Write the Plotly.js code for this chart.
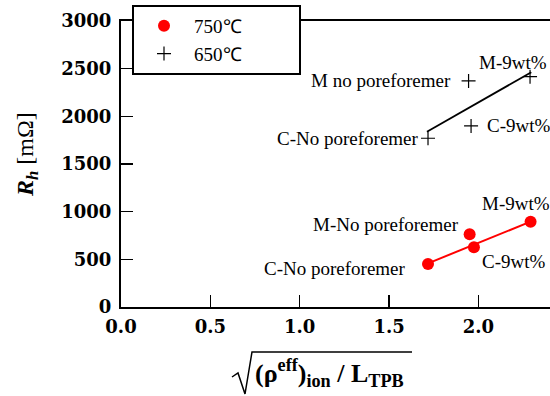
<!DOCTYPE html>
<html>
<head>
<meta charset="utf-8">
<script src="https://cdn.plot.ly/plotly-3.0.1.min.js"></script>
<style>html,body{margin:0;padding:0;background:#fff;}#chart{width:550px;height:396px;}</style>
</head>
<body>
<div id="chart"></div>
<script>
// ---- data ----
const series750Name = "750℃";
const labels750 = ["C-No poreforemer", "M-No poreforemer", "C-9wt%", "M-9wt%"];
const x750 = [1.718, 1.951, 1.975, 2.292];
const y750 = [451, 762, 626, 895];
const fit750x = [1.718, 2.292];
const fit750y = [458, 895];

const series650Name = "650℃";
const labels650 = ["C-No poreforemer", "M no poreforemer", "C-9wt%", "M-9wt%"];
const x650 = [1.718, 1.945, 1.959, 2.289];
const y650 = [1770, 2371, 1899, 2416];
const fit650x = [1.712, 2.296];
const fit650y = [1839, 2462];

const xTicks = [0, 0.5, 1.0, 1.5, 2.0];
const xTickText = ["0.0", "0.5", "1.0", "1.5", "2.0"];
const yTicks = [0, 500, 1000, 1500, 2000, 2500, 3000];

// ---- layout geometry ----
const W = 550, H = 396;
const M = {l: 121, r: 0, t: 21, b: 89};
const pw = W - M.l - M.r, ph = H - M.t - M.b;
const px2x = p => (p - M.l) / pw;
const py2y = p => (H - M.b - p) / ph;

const serif = "Liberation Serif, Times New Roman, serif";
const tickFont = {family: "DejaVu Serif", size: 18, color: "#000", weight: "bold"};
const pad = "\u00a0".repeat(11);

// label offsets (pixels) relative to each point
const off650 = [
  {ax: "right", dx: -7, dy: 0},
  {ax: "right", dx: -16, dy: 0},
  {ax: "left", dx: 14, dy: 0},
  {ax: "center", dx: -17, dy: 14}
];
const off750 = [
  {ax: "right", dx: -20, dy: -4},
  {ax: "right", dx: -9, dy: 10},
  {ax: "left", dx: 6, dy: -14},
  {ax: "center", dx: -15, dy: 18}
];

const annotations = [];
labels650.forEach((t, i) => annotations.push({
  x: x650[i], y: y650[i], xref: "x", yref: "y", text: t, showarrow: false,
  xanchor: off650[i].ax, yanchor: "middle", xshift: off650[i].dx, yshift: off650[i].dy,
  font: {family: serif, size: 19, color: "#000"}
}));
labels750.forEach((t, i) => annotations.push({
  x: x750[i], y: y750[i], xref: "x", yref: "y", text: t, showarrow: false,
  xanchor: off750[i].ax, yanchor: "middle", xshift: off750[i].dx, yshift: off750[i].dy,
  font: {family: serif, size: 19, color: "#000"}
}));

// axis titles
annotations.push({
  xref: "paper", yref: "paper", x: px2x(253), y: py2y(373), xanchor: "left", yanchor: "middle",
  showarrow: false,
  text: "<b>(ρ<sup>eff</sup>)<sub>ion</sub> / L<sub>TPB</sub></b>",
  font: {family: serif, size: 26, color: "#000"}
});
annotations.push({
  xref: "paper", yref: "paper", x: px2x(27), y: py2y(155), xanchor: "center", yanchor: "middle",
  showarrow: false, textangle: -90,
  text: "<b><i>R</i></b><sub><b><i>h</i></b></sub> [mΩ]",
  font: {family: serif, size: 24, color: "#000"}
});

// radical sign for the x title
const rad = [[232, 377], [238, 373], [245, 394], [252, 352], [412, 352]];
const radPath = rad.map((p, i) => (i ? "L" : "M") + px2x(p[0]) + "," + py2y(p[1])).join(" ");

const traces = [
  {x: fit750x, y: fit750y, mode: "lines", line: {color: "#ff0000", width: 2}, showlegend: false, hoverinfo: "skip"},
  {x: fit650x, y: fit650y, mode: "lines", line: {color: "#000", width: 1.8}, showlegend: false, hoverinfo: "skip"},
  {x: x750, y: y750, mode: "markers", name: series750Name + pad,
   marker: {symbol: "circle", size: 12, color: "#ff0000"}},
  {x: x650, y: y650, mode: "markers", name: series650Name + pad,
   marker: {symbol: "cross-thin-open", size: 10, color: "#000", line: {color: "#000", width: 1.2}}}
];

const layout = {
  width: W, height: H,
  margin: M,
  paper_bgcolor: "#fff", plot_bgcolor: "#fff",
  showlegend: true,
  legend: {
    x: px2x(132), y: py2y(5), xanchor: "left", yanchor: "top",
    xref: "paper", yref: "paper",
    bgcolor: "#fff", bordercolor: "#000", borderwidth: 2,
    font: {family: serif, size: 19, color: "#000"},
    itemwidth: 50, tracegroupgap: 0
  },
  xaxis: {
    range: [0, pw / 178.7], tickvals: xTicks, ticktext: xTickText,
    showgrid: false, zeroline: false, showline: true, linecolor: "#000", linewidth: 2,
    mirror: true, ticks: "inside", ticklen: 12, tickwidth: 1.5, tickcolor: "#000",
    tickfont: tickFont, ticklabelstandoff: 2
  },
  yaxis: {
    range: [0, 3000], tickvals: yTicks,
    showgrid: false, zeroline: false, showline: true, linecolor: "#000", linewidth: 2,
    ticks: "inside", ticklen: 12, tickwidth: 1.5, tickcolor: "#000",
    tickfont: tickFont, ticklabelstandoff: 4
  },
  shapes: [
    {type: "path", xref: "paper", yref: "paper", path: radPath, line: {color: "#000", width: 1.5}}
  ],
  annotations: annotations
};

Plotly.newPlot("chart", traces, layout, {staticPlot: true, displayModeBar: false});
</script>
</body>
</html>
